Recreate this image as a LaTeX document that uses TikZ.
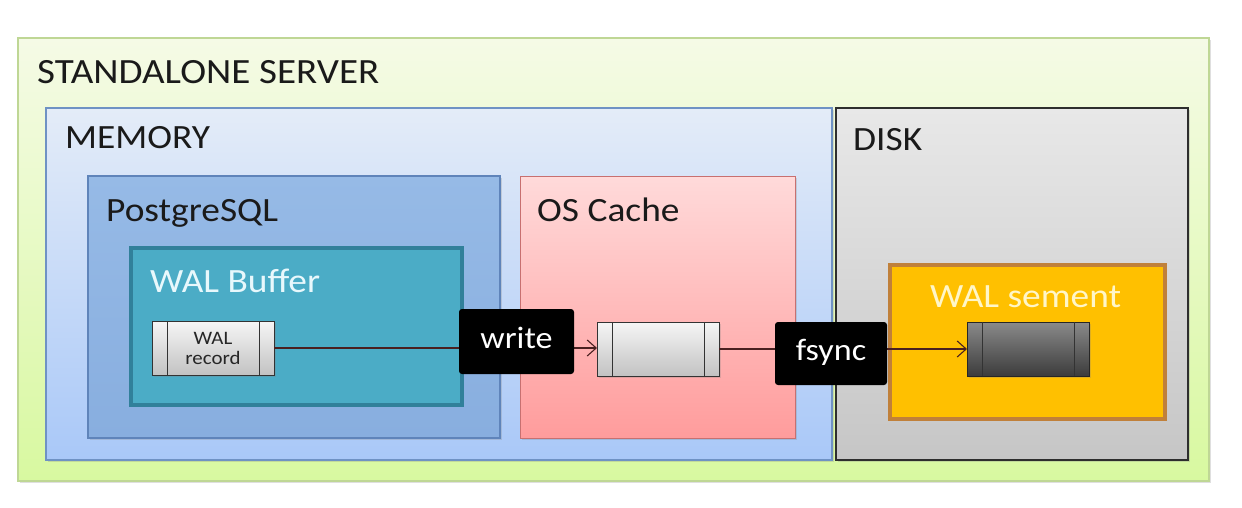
\documentclass[tikz,border=0pt]{standalone}
\usepackage{fontspec}
\setmainfont{Carlito}[FakeStretch=1.1]
\usetikzlibrary{arrows.meta,shadows}
\definecolor{greentop}{HTML}{F5FAE6}
\definecolor{greenbot}{HTML}{D8F9A0}
\definecolor{greenborder}{HTML}{BFD795}
\definecolor{memtop}{HTML}{E4ECF8}
\definecolor{membot}{HTML}{A9C8F8}
\definecolor{memborder}{HTML}{6F92C4}
\definecolor{disktop}{HTML}{E8E8E8}
\definecolor{diskbot}{HTML}{C6C6C6}
\definecolor{diskborder}{HTML}{2E2E2E}
\definecolor{pgtop}{HTML}{96BAE6}
\definecolor{pgbot}{HTML}{88AEDF}
\definecolor{pgborder}{HTML}{5F84BA}
\definecolor{walbuf}{HTML}{4BACC6}
\definecolor{walbufborder}{HTML}{31809A}
\definecolor{ostop}{HTML}{FFDADA}
\definecolor{osbot}{HTML}{FF9C9C}
\definecolor{osborder}{HTML}{C87070}
\definecolor{seg}{HTML}{FFC000}
\definecolor{segborder}{HTML}{C0803A}
\definecolor{rectop}{HTML}{F6F6F6}
\definecolor{recbot}{HTML}{C2C2C2}
\definecolor{darktop}{HTML}{8A8A8A}
\definecolor{darkbot}{HTML}{3C3C3C}
\definecolor{arrowcol}{HTML}{4A2020}
\definecolor{lbltext}{HTML}{1A1A1A}
\begin{document}
\begin{tikzpicture}[x=1pt,y=-1pt,
  box/.style={rectangle, inner sep=0pt, outer sep=0pt, anchor=north west},
  shade/.style={drop shadow={opacity=0.25, shadow xshift=2pt, shadow yshift=-2pt}},
  lbl/.style={inner sep=0pt, anchor=base west, text=lbltext, font=\fontsize{34}{40}\selectfont},
  rec/.style={box, minimum width=122pt, minimum height=54pt, draw=black!80, line width=1pt},
  cmd/.style={box, fill=black, rounded corners=3pt, text=white, font=\fontsize{31}{36}\selectfont, text height=21pt, text depth=7pt},
  conn/.style={draw=arrowcol, line width=1.1pt},
  tip/.style={-{Straight Barb[length=9pt,width=16pt,line width=1.1pt]}}
]
\useasboundingbox (0,0) rectangle (1242,508);
\fill[white] (0,0) rectangle (1242,508);

% outer server
\node[box, shade, top color=greentop, bottom color=greenbot, draw=greenborder, line width=1.2pt,
  minimum width=1191pt, minimum height=443pt] (server) at (18,38) {};
\node[lbl, font=\fontsize{35.5}{40}\selectfont] (serverlbl) at (37,84) {STANDALONE SERVER};

% memory
\node[box, shade, top color=memtop, bottom color=membot, draw=memborder, line width=1.2pt,
  minimum width=786pt, minimum height=352pt] (memory) at (46,108) {};
\node[lbl] (memorylbl) at (65,149) {MEMORY};

% disk
\node[box, shade, top color=disktop, bottom color=diskbot, draw=diskborder, line width=1.2pt,
  minimum width=352pt, minimum height=352pt] (disk) at (836,108) {};
\node[lbl] (disklbl) at (853,150) {DISK};

% postgresql
\node[box, shade, top color=pgtop, bottom color=pgbot, draw=pgborder, line width=1.2pt,
  minimum width=412pt, minimum height=262pt] (pg) at (88,176) {};
\node[lbl] (pglbl) at (106,221) {PostgreSQL};

% os cache
\node[box, shade, top color=ostop, bottom color=osbot, draw=osborder, line width=1pt,
  minimum width=275pt, minimum height=262pt] (os) at (520,176) {};
\node[lbl] (oslbl) at (537,221) {OS Cache};

% wal buffer
\node[box, shade, fill=walbuf, draw=walbufborder, line width=4pt,
  minimum width=331pt, minimum height=157pt] (walbuf) at (131,248) {};
\node[lbl, text={rgb,255:red,232;green,248;blue,252}] (walbuflbl) at (150,292) {WAL Buffer};

% wal segment
\node[box, shade, fill=seg, draw=segborder, line width=4pt,
  minimum width=275pt, minimum height=154pt] (walseg) at (890,265) {};
\node[lbl, text={rgb,255:red,255;green,246;blue,200}] (walseglbl) at (930,307) {WAL sement};

% records
\node[rec, shade, top color=rectop, bottom color=recbot] (walrec) at (152,321) {};
\node[rec, shade, top color=rectop, bottom color=recbot] (osrec) at (597,322) {};
\node[rec, shade, top color=darktop, bottom color=darkbot, draw=black!85] (segrec) at (967,322) {};
\foreach \r in {walrec,osrec,segrec}{
  \draw[black!80, line width=1pt] ([xshift=15pt]\r.north west) -- ([xshift=15pt]\r.south west);
  \draw[black!80, line width=1pt] ([xshift=-15pt]\r.north east) -- ([xshift=-15pt]\r.south east);
}
\node[align=center, text=black!85, font=\fontsize{19}{20}\selectfont, inner sep=0pt] (walrectxt) at (walrec.center) {WAL\\record};

% connectors
\draw[conn, tip] (walrec.east) -- (walrec.east -| osrec.west);
\draw[conn, tip] (osrec.east) -- (osrec.east -| segrec.west);

% command boxes
\node[cmd, minimum width=115pt, minimum height=65pt] (write) at (459,309) {write};
\node[cmd, minimum width=112pt, minimum height=63pt] (fsync) at (775,322) {fsync};
\end{tikzpicture}
\end{document}
